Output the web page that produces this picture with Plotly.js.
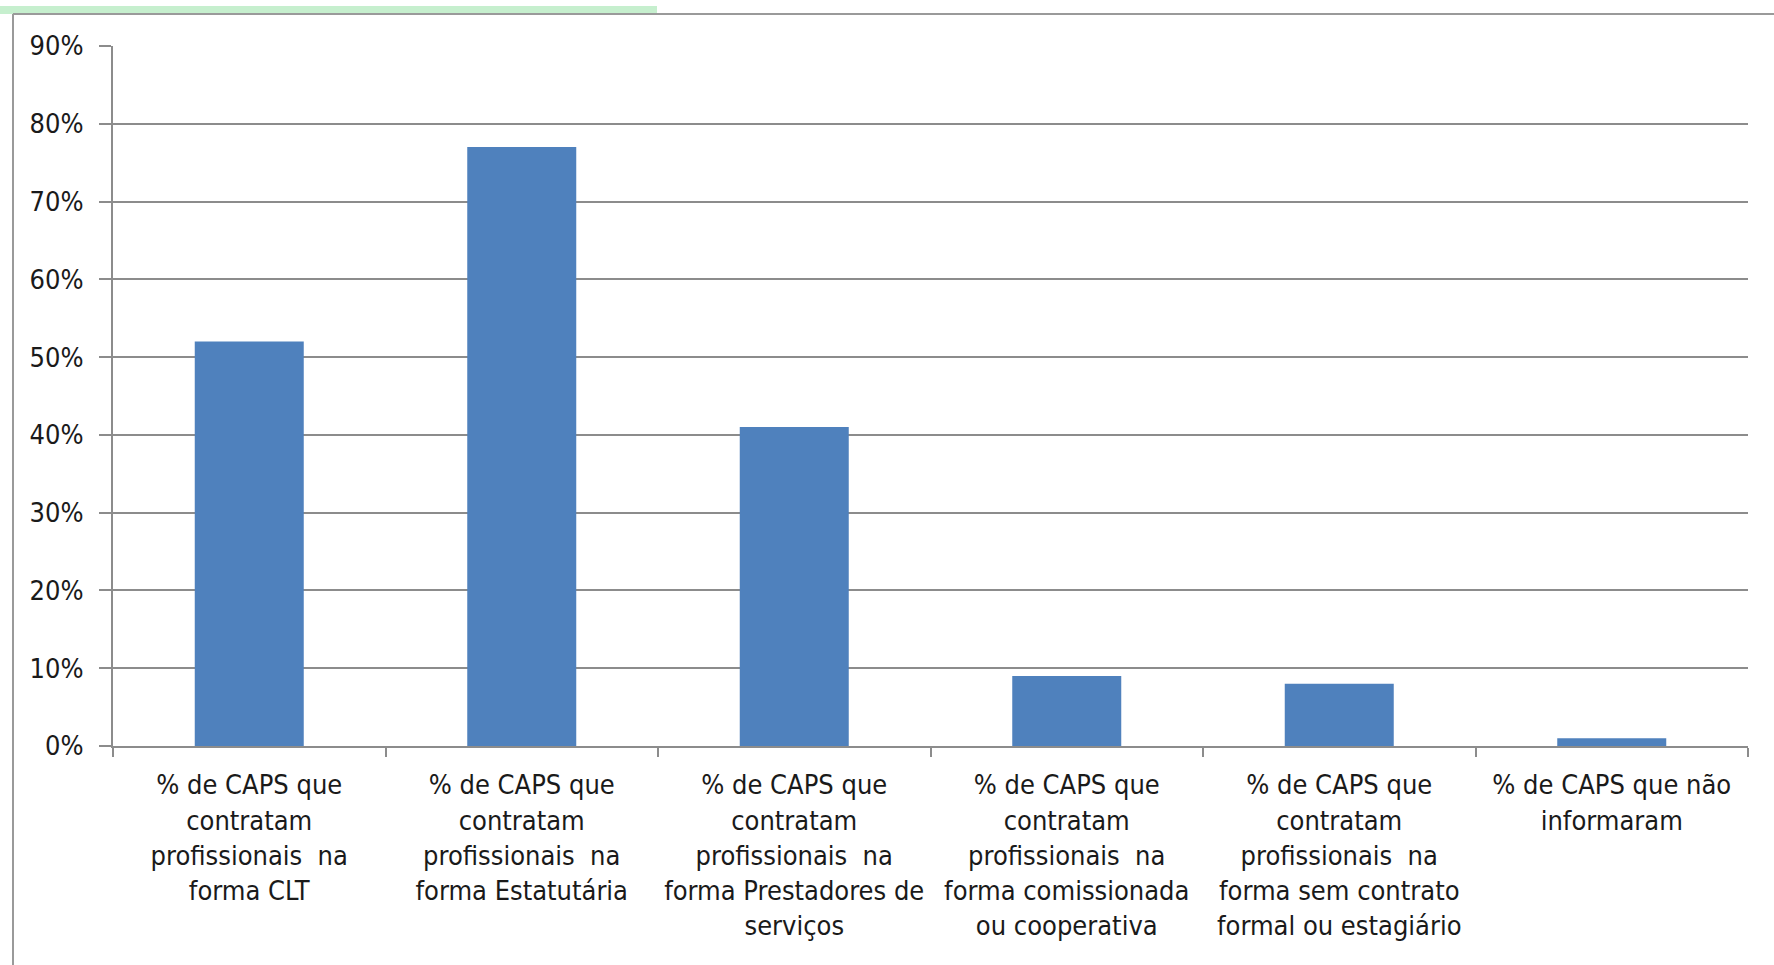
<!DOCTYPE html>
<html>
<head>
<meta charset="utf-8">
<script src="https://cdn.plot.ly/plotly-3.0.1.min.js"></script>
<style>
  html, body { margin: 0; padding: 0; background: #fff; }
  #myPlot { width: 1774px; height: 965px; }
</style>
</head>
<body>
<div id="myPlot"></div>
<script>
// categories, as wrapped on the chart
var categories = [
	'% de CAPS que<br>contratam<br>profissionais&nbsp; na<br>forma CLT',
	'% de CAPS que<br>contratam<br>profissionais&nbsp; na<br>forma Estatutária',
	'% de CAPS que<br>contratam<br>profissionais&nbsp; na<br>forma Prestadores de<br>serviços',
	'% de CAPS que<br>contratam<br>profissionais&nbsp; na<br>forma comissionada<br>ou cooperativa',
	'% de CAPS que<br>contratam<br>profissionais&nbsp; na<br>forma sem contrato<br>formal ou estagiário',
	'% de CAPS que não<br>informaram'
];
var pctValues = [0.52, 0.77, 0.41, 0.09, 0.08, 0.01];

var labelFont = "'Liberation Sans Narrow', 'DejaVu Sans Condensed', 'Liberation Sans', sans-serif";
var gridGray = '#8c8c8c';

var trace1 = {
	x: categories,
	y: pctValues,
	type: 'bar',
	marker: {color: '#4f81bd'},
	hoverinfo: 'none'
};

var plotLayout1 = {
	width: 1774,
	height: 965,
	margin: {l: 113, r: 26, t: 46, b: 219},
	paper_bgcolor: '#ffffff',
	plot_bgcolor: '#ffffff',
	bargap: 0.6,
	showlegend: false,
	font: {family: labelFont, color: '#1a1a1a'},
	xaxis: {
		type: 'category',
		showgrid: false,
		showline: true,
		linecolor: gridGray,
		linewidth: 2,
		ticks: 'outside',
		tickson: 'boundaries',
		ticklen: 9,
		tickwidth: 2,
		tickcolor: gridGray,
		ticklabelstandoff: 14,
		tickangle: 0,
		tickfont: {size: 27, family: labelFont, color: '#1a1a1a'},
		fixedrange: true
	},
	yaxis: {
		range: [0, 0.9],
		dtick: 0.1,
		tick0: 0,
		tickformat: '.0%',
		showgrid: true,
		gridcolor: gridGray,
		gridwidth: 2,
		zeroline: false,
		showline: true,
		linecolor: gridGray,
		linewidth: 2,
		ticks: 'outside',
		ticklen: 12,
		tickwidth: 2,
		tickcolor: gridGray,
		ticklabelstandoff: 10,
		tickfont: {size: 27, family: labelFont, color: '#1a1a1a'},
		fixedrange: true
	},
	shapes: [
		// spreadsheet frame around the pasted chart
		{type: 'rect', xref: 'paper', yref: 'paper', x0: -113/1635, x1: 544/1635, y0: 1 + 32/700, y1: 1 + 40/700,
			line: {width: 0}, fillcolor: '#c6efce', layer: 'below'},
		{type: 'line', xref: 'paper', yref: 'paper', x0: -100/1635, x1: 1 + 26/1635, y0: 1 + 32/700, y1: 1 + 32/700,
			line: {color: '#9a9a9a', width: 2}},
		{type: 'line', xref: 'paper', yref: 'paper', x0: -100/1635, x1: -100/1635, y0: -219/700, y1: 1 + 32/700,
			line: {color: '#9a9a9a', width: 2}}
	]
};

var myPlot1 = document.getElementById('myPlot');
Plotly.newPlot(myPlot1, [trace1], plotLayout1, {displayModeBar: false, staticPlot: true});
</script>
</body>
</html>
